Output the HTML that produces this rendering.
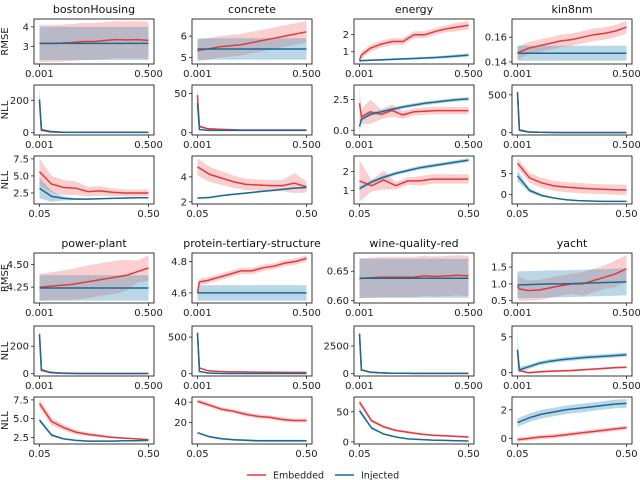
<!DOCTYPE html>
<html><head><meta charset="utf-8"><style>
body{margin:0;background:#fff;}
svg{display:block;font-family:"DejaVu Sans","Liberation Sans",sans-serif;}
</style></head><body>
<svg id="c" width="640" height="480" viewBox="0 0 640 480"></svg>
<script>
// ---- data ----
const xsFine = [0.001,0.01,0.05,0.1,0.15,0.2,0.25,0.3,0.35,0.4,0.45,0.5];
const xsCoarse = [0.05,0.1,0.15,0.2,0.25,0.3,0.35,0.4,0.45,0.5];
const datasets = ["bostonHousing","concrete","energy","kin8nm","power-plant","protein-tertiary-structure","wine-quality-red","yacht"];
const xTicksFine = ["0.001","0.500"];
const xTicksCoarse = ["0.05","0.50"];
const legendLabels = ["Embedded","Injected"];

// bostonHousing
const boston_rmse_emb=[3.15,3.15,3.15,3.17,3.2,3.25,3.25,3.3,3.35,3.33,3.35,3.3], boston_rmse_embErr=[0.95], boston_rmse_inj=[3.15,3.15,3.15,3.15,3.15,3.15,3.15,3.15,3.15,3.15,3.15,3.15], boston_rmse_injErr=[0.85], boston_rmse_ticks=[3,4];
const boston_nll_emb=[200,20,8,4,3,3,3,2.5,2.5,2.5,2.5,2.5], boston_nll_embErr=[80,6,3,2,1], boston_nll_inj=[205,15,5,3,2,2,2,2,2,2,2,2], boston_nll_injErr=[70,5,2,1], boston_nll_ticks=[0,200];
const boston_nll2_emb=[5.6,3.8,3.3,3.2,2.7,2.8,2.6,2.5,2.5,2.5], boston_nll2_embErr=[2,1.2,1.1,1,0.7,0.7,0.6,0.5,0.5,0.5], boston_nll2_inj=[3.2,2.0,1.7,1.6,1.6,1.65,1.7,1.75,1.8,1.8], boston_nll2_injErr=[1.5,0.8,0.3,0.15,0.1], boston_nll2_ticks=[2.5,5.0,7.5];
// concrete
const concrete_rmse_emb=[5.3,5.35,5.4,5.5,5.55,5.6,5.7,5.8,5.9,6.0,6.1,6.2], concrete_rmse_embErr=[0.5], concrete_rmse_inj=[5.4,5.4,5.4,5.4,5.4,5.4,5.4,5.4,5.4,5.4,5.4,5.4], concrete_rmse_injErr=[0.5], concrete_rmse_ticks=[5,6];
const concrete_nll_emb=[48,8,5,4.5,4,3.5,3.5,3.5,3.5,3.5,3.5,3.5], concrete_nll_embErr=[10,2,1,0.5], concrete_nll_inj=[38,4,3,3,3,3,3,3,3,3,3,3], concrete_nll_injErr=[8,1,0.5], concrete_nll_ticks=[0,50];
const concrete_nll2_emb=[4.8,4.2,3.9,3.6,3.4,3.35,3.3,3.3,3.5,3.2], concrete_nll2_embErr=[0.7,0.6,0.55,0.5,0.45,0.45,0.45,0.45,0.8,0.45], concrete_nll2_inj=[2.3,2.35,2.5,2.6,2.7,2.8,2.9,3.0,3.1,3.15], concrete_nll2_injErr=[0.07], concrete_nll2_ticks=[2,4];
// energy
const energy_rmse_emb=[0.5,0.8,1.2,1.45,1.6,1.6,2.0,2.0,2.2,2.35,2.45,2.55], energy_rmse_embErr=[0.1,0.2,0.2,0.2,0.2,0.2,0.2,0.2,0.2,0.2,0.25,0.25], energy_rmse_inj=[0.45,0.48,0.5,0.52,0.55,0.58,0.6,0.63,0.66,0.7,0.75,0.8], energy_rmse_injErr=[0.05,0.05,0.05,0.06,0.06,0.07,0.07,0.08,0.08,0.09,0.1,0.1], energy_rmse_ticks=[1,2];
const energy_nll_emb=[2.2,1.1,1.5,1.3,1.6,1.25,1.5,1.55,1.6,1.6,1.6,1.6], energy_nll_embErr=[1.3,0.6,1.0,0.4,0.5,0.3,0.3,0.3,0.3,0.3,0.3,0.3], energy_nll_inj=[0.3,0.9,1.3,1.5,1.7,1.9,2.05,2.2,2.3,2.4,2.5,2.55], energy_nll_injErr=[0.5,0.2,0.15], energy_nll_ticks=[0.0,2.5];
const energy_nll2_emb=[1.5,1.25,1.55,1.25,1.5,1.5,1.6,1.6,1.6,1.6], energy_nll2_embErr=[1.1,0.3,0.5,0.2,0.2,0.25,0.25,0.25,0.25,0.25], energy_nll2_inj=[1.1,1.45,1.7,1.9,2.05,2.2,2.3,2.4,2.5,2.6], energy_nll2_injErr=[0.1], energy_nll2_ticks=[1,2];
// kin8nm
const kin_rmse_emb=[0.147,0.148,0.151,0.153,0.155,0.157,0.158,0.16,0.162,0.163,0.165,0.168], kin_rmse_embErr=[0.005], kin_rmse_inj=[0.147,0.147,0.147,0.147,0.147,0.147,0.147,0.147,0.147,0.147,0.147,0.147], kin_rmse_injErr=[0.006], kin_rmse_ticks=[0.14,0.16];
const kin_nll_emb=[540,40,10,5,3,2,2,2,2,2,2,2], kin_nll_embErr=[60,8,2], kin_nll_inj=[520,30,8,4,2,1,1,1,1,1,1,1], kin_nll_injErr=[50,6,2], kin_nll_ticks=[0,500];
const kin_nll2_emb=[7.5,4,2.8,2.1,1.8,1.6,1.4,1.3,1.2,1.1], kin_nll2_embErr=[1.2], kin_nll2_inj=[4.5,1,-0.2,-0.8,-1.2,-1.4,-1.5,-1.6,-1.6,-1.6], kin_nll2_injErr=[1.3,0.5,0.3,0.15,0.1], kin_nll2_ticks=[0,5];
// power-plant
const power_rmse_emb=[4.25,4.25,4.26,4.27,4.28,4.3,4.32,4.34,4.36,4.38,4.42,4.46], power_rmse_embErr=[0.15,0.15,0.15,0.16,0.17,0.18,0.18,0.18,0.18,0.17,0.12,0.14], power_rmse_inj=[4.24,4.24,4.24,4.24,4.24,4.24,4.24,4.24,4.24,4.24,4.24,4.24], power_rmse_injErr=[0.14], power_rmse_ticks=[4.25,4.50];
const power_nll_emb=[290,30,10,5,3,2,2,2,2,2,2,2], power_nll_embErr=[40,5,2], power_nll_inj=[280,25,8,4,2,2,2,2,2,2,2,2], power_nll_injErr=[35,4,2], power_nll_ticks=[0,200];
const power_nll2_emb=[7.0,4.6,3.8,3.2,2.9,2.7,2.5,2.4,2.3,2.2], power_nll2_embErr=[0.6,0.5,0.4,0.3,0.25,0.2,0.15,0.1,0.1,0.1], power_nll2_inj=[4.8,2.8,2.3,2.1,2.0,2.0,2.0,2.05,2.05,2.1], power_nll2_injErr=[0.3,0.2,0.1], power_nll2_ticks=[2.5,5.0,7.5];
// protein
const protein_rmse_emb=[4.6,4.67,4.68,4.7,4.72,4.74,4.74,4.76,4.77,4.79,4.8,4.82], protein_rmse_embErr=[0.02], protein_rmse_inj=[4.6,4.6,4.6,4.6,4.6,4.6,4.6,4.6,4.6,4.6,4.6,4.6], protein_rmse_injErr=[0.05], protein_rmse_ticks=[4.6,4.8];
const protein_nll_emb=[560,80,40,30,25,25,22,20,20,18,18,18], protein_nll_embErr=[60,10,5], protein_nll_inj=[550,30,10,5,3,3,3,3,3,3,3,3], protein_nll_injErr=[60,6,2], protein_nll_ticks=[0,500];
const protein_nll2_emb=[41,37,33,31,28,26,25,23,22,22], protein_nll2_embErr=[2], protein_nll2_inj=[10,6,4,3,2.5,2,2,2,2,2], protein_nll2_injErr=[1], protein_nll2_ticks=[20,40];
// wine
const wine_rmse_emb=[0.637,0.638,0.639,0.64,0.64,0.64,0.64,0.642,0.641,0.642,0.643,0.642], wine_rmse_embErr=[0.034], wine_rmse_inj=[0.638,0.638,0.638,0.638,0.638,0.638,0.638,0.638,0.638,0.638,0.638,0.638], wine_rmse_injErr=[0.033], wine_rmse_ticks=[0.60,0.65];
const wine_nll_emb=[3600,350,150,80,50,40,30,30,30,30,30,30], wine_nll_embErr=[500,40,15], wine_nll_inj=[3600,340,140,75,45,35,28,28,28,28,28,28], wine_nll_injErr=[500,40,15], wine_nll_ticks=[0,2500];
const wine_nll2_emb=[66,35,25,19,16,13,11,10,9,8], wine_nll2_embErr=[5,3,2.5,2,2,1.5], wine_nll2_inj=[52,23,13,8,5,4,3,2.5,2,1.5], wine_nll2_injErr=[4,2,1.5,1], wine_nll2_ticks=[0,50];
// yacht
const yacht_rmse_emb=[0.95,0.85,0.8,0.82,0.88,0.95,1.0,1.0,1.1,1.2,1.3,1.45], yacht_rmse_embErr=[0.35,0.35,0.3,0.3,0.3,0.3,0.3,0.35,0.35,0.35,0.4,0.4], yacht_rmse_inj=[0.97,0.97,0.98,0.99,1.0,1.0,1.01,1.02,1.03,1.04,1.05,1.06], yacht_rmse_injErr=[0.4], yacht_rmse_ticks=[0.5,1.0,1.5];
const yacht_nll_emb=[3,0.3,0,0.1,0.2,0.25,0.3,0.4,0.5,0.6,0.7,0.75], yacht_nll_embErr=[0.15], yacht_nll_inj=[3.2,0.4,0.8,1.3,1.6,1.8,1.95,2.1,2.2,2.3,2.4,2.5], yacht_nll_injErr=[3,0.4,0.3,0.3,0.3,0.3,0.3,0.3,0.3,0.3,0.3,0.3], yacht_nll_ticks=[0,5];
const yacht_nll2_emb=[-0.1,0,0.1,0.15,0.25,0.35,0.45,0.55,0.65,0.75], yacht_nll2_embErr=[0.15], yacht_nll2_inj=[1.1,1.45,1.7,1.85,2.0,2.1,2.2,2.3,2.4,2.45], yacht_nll2_injErr=[0.3], yacht_nll2_ticks=[0,2];

// ---- layout & drawing ----
const svg=document.getElementById('c');
const NS='http://www.w3.org/2000/svg';
const colLeft=[34,192,354,512], colW=120;
const rowBox=[[19,64],[85,135],[156,204],[253,303],[326,376],[397,444]];
const RED='#e5383b', BLUE='#1a6a96';
function mk(tag,attrs,parent){const e=document.createElementNS(NS,tag);for(const k in attrs)e.setAttribute(k,attrs[k]);(parent||svg).appendChild(e);return e;}
function ext(a,n){return a.length>=n?a:a.concat(Array(n-a.length).fill(a[a.length-1]));}
const panels=[
 [0,0,'rmse',boston_rmse_emb,boston_rmse_embErr,boston_rmse_inj,boston_rmse_injErr,boston_rmse_ticks,['3','4']],
 [0,1,'nll',boston_nll_emb,boston_nll_embErr,boston_nll_inj,boston_nll_injErr,boston_nll_ticks,['0','200']],
 [0,2,'nll2',boston_nll2_emb,boston_nll2_embErr,boston_nll2_inj,boston_nll2_injErr,boston_nll2_ticks,['2.5','5.0','7.5']],
 [1,0,'rmse',concrete_rmse_emb,concrete_rmse_embErr,concrete_rmse_inj,concrete_rmse_injErr,concrete_rmse_ticks,['5','6']],
 [1,1,'nll',concrete_nll_emb,concrete_nll_embErr,concrete_nll_inj,concrete_nll_injErr,concrete_nll_ticks,['0','50']],
 [1,2,'nll2',concrete_nll2_emb,concrete_nll2_embErr,concrete_nll2_inj,concrete_nll2_injErr,concrete_nll2_ticks,['2','4']],
 [2,0,'rmse',energy_rmse_emb,energy_rmse_embErr,energy_rmse_inj,energy_rmse_injErr,energy_rmse_ticks,['1','2']],
 [2,1,'nll',energy_nll_emb,energy_nll_embErr,energy_nll_inj,energy_nll_injErr,energy_nll_ticks,['0.0','2.5']],
 [2,2,'nll2',energy_nll2_emb,energy_nll2_embErr,energy_nll2_inj,energy_nll2_injErr,energy_nll2_ticks,['1','2']],
 [3,0,'rmse',kin_rmse_emb,kin_rmse_embErr,kin_rmse_inj,kin_rmse_injErr,kin_rmse_ticks,['0.14','0.16']],
 [3,1,'nll',kin_nll_emb,kin_nll_embErr,kin_nll_inj,kin_nll_injErr,kin_nll_ticks,['0','500']],
 [3,2,'nll2',kin_nll2_emb,kin_nll2_embErr,kin_nll2_inj,kin_nll2_injErr,kin_nll2_ticks,['0','5']],
 [4,3,'rmse',power_rmse_emb,power_rmse_embErr,power_rmse_inj,power_rmse_injErr,power_rmse_ticks,['4.25','4.50']],
 [4,4,'nll',power_nll_emb,power_nll_embErr,power_nll_inj,power_nll_injErr,power_nll_ticks,['0','200']],
 [4,5,'nll2',power_nll2_emb,power_nll2_embErr,power_nll2_inj,power_nll2_injErr,power_nll2_ticks,['2.5','5.0','7.5']],
 [5,3,'rmse',protein_rmse_emb,protein_rmse_embErr,protein_rmse_inj,protein_rmse_injErr,protein_rmse_ticks,['4.6','4.8']],
 [5,4,'nll',protein_nll_emb,protein_nll_embErr,protein_nll_inj,protein_nll_injErr,protein_nll_ticks,['0','500']],
 [5,5,'nll2',protein_nll2_emb,protein_nll2_embErr,protein_nll2_inj,protein_nll2_injErr,protein_nll2_ticks,['20','40']],
 [6,3,'rmse',wine_rmse_emb,wine_rmse_embErr,wine_rmse_inj,wine_rmse_injErr,wine_rmse_ticks,['0.60','0.65']],
 [6,4,'nll',wine_nll_emb,wine_nll_embErr,wine_nll_inj,wine_nll_injErr,wine_nll_ticks,['0','2500']],
 [6,5,'nll2',wine_nll2_emb,wine_nll2_embErr,wine_nll2_inj,wine_nll2_injErr,wine_nll2_ticks,['0','50']],
 [7,3,'rmse',yacht_rmse_emb,yacht_rmse_embErr,yacht_rmse_inj,yacht_rmse_injErr,yacht_rmse_ticks,['0.5','1.0','1.5']],
 [7,4,'nll',yacht_nll_emb,yacht_nll_embErr,yacht_nll_inj,yacht_nll_injErr,yacht_nll_ticks,['0','5']],
 [7,5,'nll2',yacht_nll2_emb,yacht_nll2_embErr,yacht_nll2_inj,yacht_nll2_injErr,yacht_nll2_ticks,['0','2']]
];
panels.forEach(p=>{
 const [di,row,kind,em,ee,im,ie,ticks,tlab]=p;
 const col=di%4;
 const xs=kind==='nll2'?xsCoarse:xsFine;
 const n=xs.length;
 const eE=ext(ee,n), iE=ext(ie,n);
 const L=colLeft[col], R=L+colW, T=rowBox[row][0], B=rowBox[row][1];
 let lo=Infinity,hi=-Infinity;
 for(let i=0;i<n;i++){lo=Math.min(lo,em[i]-eE[i],im[i]-iE[i]);hi=Math.max(hi,em[i]+eE[i],im[i]+iE[i]);}
 lo=Math.min(lo,...ticks.filter(t=>t<lo+ (hi-lo)*0.1));
 const pad=(hi-lo)*0.05; const y0=lo-pad, y1=hi+pad;
 const xmin=xs[0], xmax=xs[n-1], xp=(xmax-xmin)*0.05;
 const X=v=>L+(v-(xmin-xp))/((xmax+xp)-(xmin-xp))*colW;
 const Y=v=>B-(v-y0)/(y1-y0)*(B-T);
 const g=mk('g',{});
 
 
 const cp='cp'+di+row;
 const defs=mk('defs',{},g); const c=mk('clipPath',{id:cp},defs); mk('rect',{x:L,y:T,width:colW,height:B-T},c);
 const body=mk('g',{'clip-path':'url(#'+cp+')'},g);
 [[em,eE,RED,'rgba(240,110,110,0.33)','embedded'],[im,iE,BLUE,'rgba(60,140,180,0.35)','injected']].forEach(s=>{
  const [m,e,lc,fc,nm]=s;
  let d='M'; for(let i=0;i<n;i++)d+=(i?'L':'')+X(xs[i]).toFixed(1)+','+Y(m[i]+e[i]).toFixed(1);
  for(let i=n-1;i>=0;i--)d+='L'+X(xs[i]).toFixed(1)+','+Y(m[i]-e[i]).toFixed(1);
  const band=mk('path',{d:d+'Z',fill:fc,stroke:'none'},body);
  
  
 });
 [[em,RED,'embedded'],[im,BLUE,'injected']].forEach(s=>{
  const pts=xs.map((x,i)=>X(x).toFixed(1)+','+Y(s[0][i]).toFixed(1)).join(' ');
  const ln=mk('polyline',{points:pts,fill:'none',stroke:s[1],'stroke-width':1.5},body);
  
  
 });
 mk('rect',{x:L,y:T,width:colW,height:B-T,fill:'none',stroke:'#222','stroke-width':0.9},g);
 ticks.forEach((t,k)=>{const yy=Y(t); mk('line',{x1:L-3,x2:L,y1:yy,y2:yy,stroke:'#222','stroke-width':0.8},g);
  const tx=mk('text',{x:L-5,y:yy+3.5,'font-size':10,'text-anchor':'end',fill:'#222'},g); tx.textContent=tlab[k];
  
  });
 const xl=kind==='nll2'?xTicksCoarse:xTicksFine;
 [xmin,xmax].forEach((v,k)=>{const xx=X(v); mk('line',{x1:xx,x2:xx,y1:B,y2:B+3,stroke:'#222','stroke-width':0.8},g);
  const tx=mk('text',{x:xx,y:B+13,'font-size':10,'text-anchor':'middle',fill:'#222'},g); tx.textContent=xl[k];
  
  });
 if(row===0||row===3){const tt=mk('text',{x:L+colW/2,y:T-6,'font-size':11,'text-anchor':'middle',fill:'#111'},g); tt.textContent=datasets[di];
  
  }
 if(col===0){const yt=mk('text',{x:0,y:0,'font-size':10,'text-anchor':'middle',fill:'#222',transform:'translate(8,'+((T+B)/2)+') rotate(-90)'},g);
  yt.textContent=kind==='rmse'?'RMSE':'NLL';
  
  }
});
// legend
const lg=mk('g',{});


[[247,RED,legendLabels[0]],[335,BLUE,legendLabels[1]]].forEach(s=>{
 mk('line',{x1:s[0],x2:s[0]+19,y1:475,y2:475,stroke:s[1],'stroke-width':1.5},lg);
 const t=mk('text',{x:s[0]+26,y:478.5,'font-size':9.5,fill:'#222'},lg); t.textContent=s[2];
 
 
});
</script>
</body></html>
